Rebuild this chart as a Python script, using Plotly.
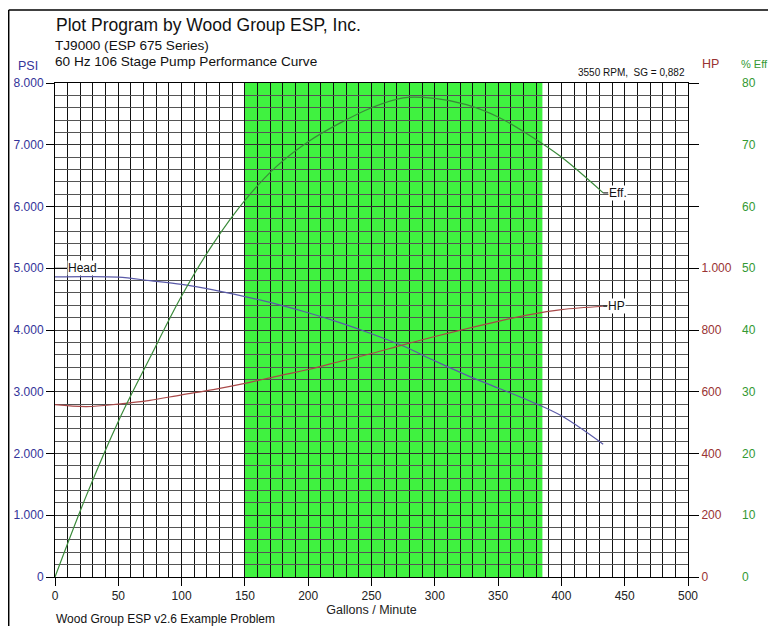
import plotly.graph_objects as go

# ---- data ----
gpm = [0, 25, 50, 75, 100, 125, 150, 175, 200, 225, 250, 275, 300, 325, 350, 375, 400, 433]
head_psi = [4860, 4865, 4855, 4800, 4740, 4650, 4540, 4420, 4280, 4120, 3940, 3740, 3500, 3270, 3060, 2850, 2610, 2150]
hp = [558, 552, 560, 572, 590, 607, 627, 650, 672, 698, 724, 752, 779, 804, 828, 850, 866, 877]
eff = [0, 13.3, 25.2, 35.5, 45.5, 54, 61, 66.5, 70.5, 73.5, 76, 77.6, 77.5, 76.5, 74.5, 71.5, 68, 62.2]
operating_range = [150, 385]

psi_ticks = [0, 1000, 2000, 3000, 4000, 5000, 6000, 7000, 8000]
hp_tickvals = [0, 200, 400, 600, 800, 1000, 1200, 1400, 1600]
hp_ticktext = ["0", "200", "400", "600", "800", "1.000", "", "", ""]
eff_ticks = [0, 10, 20, 30, 40, 50, 60, 70, 80]
x_ticks = [0, 50, 100, 150, 200, 250, 300, 350, 400, 450, 500]

FONT = "Liberation Sans, Arial, sans-serif"
BLUE = "#333399"
RED = "#993333"
GREEN = "#339933"

fig = go.Figure()

fig.add_trace(go.Scatter(x=gpm, y=head_psi, mode="lines", line=dict(color="#5a5aa8", width=1.2, shape="spline"),
                         yaxis="y", showlegend=False, hoverinfo="skip"))
fig.add_trace(go.Scatter(x=gpm, y=hp, mode="lines", line=dict(color="#a84848", width=1.2, shape="spline"),
                         yaxis="y2", showlegend=False, hoverinfo="skip"))
fig.add_trace(go.Scatter(x=gpm, y=eff, mode="lines", line=dict(color="#3a8a3a", width=1.2, shape="spline"),
                         yaxis="y3", showlegend=False, hoverinfo="skip"))

# recommended operating range (green band)
fig.add_shape(type="rect", xref="x", yref="y", x0=operating_range[0], x1=operating_range[1],
              y0=0, y1=8000, fillcolor="#40f240", line=dict(width=0), layer="below")

# page is offset by the 8px body margin; figure is sized to fit the window
OFF = 8
W, H = 776 - OFF, 634 - 2 * OFF
L, R, T, B = 55 - OFF, 35, 83 - OFF, H - (577 - OFF)
pw = W - L - R
x_dom_end = (688 - 55) / pw

# helpers converting page pixel positions to paper coordinates
px = lambda p: (p - 55) / pw
py = lambda p: (577 - p) / 494

# frame lines (left / top of the picture)
fig.add_shape(type="line", xref="paper", yref="paper", x0=px(8.7), x1=px(8.7), y0=py(640), y1=py(10),
              line=dict(color="black", width=1.5))
fig.add_shape(type="line", xref="paper", yref="paper", x0=px(8.7), x1=px(790), y0=py(10), y1=py(10),
              line=dict(color="black", width=1.5))

fig.update_layout(
    width=W, height=H,
    margin=dict(l=L, r=R, t=T, b=B, autoexpand=False),
    paper_bgcolor="white", plot_bgcolor="white",
    separators=",.",
    font=dict(family=FONT, size=12, color="#222"),
    xaxis=dict(domain=[0, x_dom_end], range=[0, 500], tickvals=x_ticks, ticks="outside", ticklen=8,
               tickcolor="black", showline=True, linecolor="black", linewidth=1, mirror=True,
               showgrid=True, gridcolor="#111", gridwidth=1, zeroline=False, automargin=False,
               minor=dict(dtick=10, tick0=0, showgrid=True, gridcolor="#111", gridwidth=1),
               tickfont=dict(size=12, color="#222"),
               title=dict(text="Gallons / Minute", font=dict(size=12.5, color="#222"), standoff=0)),
    yaxis=dict(range=[0, 8000], tickvals=psi_ticks, tickformat=",d", ticks="outside", ticklen=8,
               tickcolor="black", showline=True, linecolor="black", linewidth=1, mirror=True,
               showgrid=True, gridcolor="#333", gridwidth=1.4, zeroline=False, automargin=False,
               minor=dict(dtick=200, tick0=0, showgrid=True, gridcolor="#555", gridwidth=1.4),
               tickfont=dict(size=12, color=BLUE)),
    yaxis2=dict(range=[0, 1600], overlaying="y", side="right", anchor="x", tickvals=hp_tickvals,
                ticktext=hp_ticktext, ticks="outside", ticklen=10, tickcolor="black", automargin=False,
                showgrid=False, zeroline=False, showline=False, tickfont=dict(size=12, color=RED)),
    yaxis3=dict(range=[0, 80], overlaying="y", side="right", anchor="free", position=1.0,
                tickvals=eff_ticks, ticks="", showgrid=False, zeroline=False, showline=False,
                automargin=False, tickfont=dict(size=12, color=GREEN)),
)

def ptxt(text, x, y, size, color="#111", xanchor="left"):
    fig.add_annotation(text=text, xref="paper", yref="paper", x=x, y=y, showarrow=False,
                       xanchor=xanchor, yanchor="middle", font=dict(family=FONT, size=size, color=color))

ptxt("Plot Program by Wood Group ESP, Inc.", px(54), py(25), 17.5)
ptxt("TJ9000 (ESP 675 Series)", px(53), py(45), 13.6)
ptxt("60 Hz 106 Stage Pump Performance Curve", px(53), py(62), 13.6)
ptxt("PSI", px(28), py(66), 12.5, BLUE, "center")
ptxt("HP", px(710), py(64), 12.5, RED, "center")
ptxt("% Eff", px(739), py(64), 11, GREEN, "left")
ptxt("3550 RPM,  SG = 0,882", px(687), py(73), 10, "#111", "right")
ptxt("Wood Group ESP v2.6 Example Problem", px(54), py(619), 12)

# curve labels with short leader lines
lab_font = dict(family=FONT, size=12, color="#111")
fig.add_annotation(text="Head", x=0, y=5000, xref="x", yref="y", showarrow=True, arrowhead=0,
                   arrowwidth=1, arrowcolor="black", ax=12, ay=0, xanchor="left",
                   font=lab_font, bgcolor="white", borderpad=0)
fig.add_annotation(text="HP", x=gpm[-1], y=hp[-1], xref="x", yref="y2", showarrow=True, arrowhead=0,
                   arrowwidth=1, arrowcolor="black", ax=4, ay=0, xanchor="left",
                   font=lab_font, bgcolor="white", borderpad=0)
fig.add_annotation(text="Eff.", x=gpm[-1], y=eff[-1], xref="x", yref="y3", showarrow=True, arrowhead=0,
                   arrowwidth=1, arrowcolor="black", ax=5, ay=0, xanchor="left",
                   font=lab_font, bgcolor="white", borderpad=0)

fig.write_html("out.html")
